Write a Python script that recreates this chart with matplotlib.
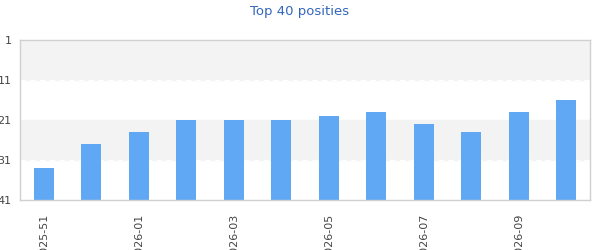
import matplotlib
matplotlib.use("Agg")
import matplotlib.pyplot as plt

# weekly chart positions (lower is better)
weeks = ["2025-51", "2025-52", "2026-01", "2026-02", "2026-03", "2026-04",
         "2026-05", "2026-06", "2026-07", "2026-08", "2026-09", "2026-10"]
positions = [33, 27, 24, 21, 21, 21, 20, 19, 22, 24, 19, 16]
y_ticks = [1, 11, 21, 31, 41]

fig = plt.figure(figsize=(6, 2.5), dpi=100)
ax = fig.add_axes([20 / 600, 1 - 200 / 250, 570 / 600, 160 / 250])

# alternating background bands
ax.axhspan(1, 11, color="#f3f3f3", zorder=0)
ax.axhspan(21, 31, color="#f3f3f3", zorder=0)
for y in (11, 31):
    ax.axhline(y, color="white", linestyle=(0, (4, 3)), linewidth=1, zorder=0.5)

# bars grow from the bottom (41) up to the position
x = list(range(len(weeks)))
heights = [41 - p for p in positions]
ax.bar(x, heights, bottom=positions, width=0.42, color="#60a8f4", zorder=2)

ax.set_ylim(41, 1)
ax.set_xlim(-0.5, len(weeks) - 0.5)
ax.set_yticks(y_ticks)
ax.set_yticklabels([str(v) for v in y_ticks])
ax.set_xticks(x[::2])
ax.set_xticklabels(weeks[::2], rotation=90, va="top", ha="center")
ax.tick_params(length=0, labelsize=8, colors="#444444")
ax.tick_params(axis="y", pad=6)
ax.tick_params(axis="x", pad=10)

for s in ax.spines.values():
    s.set_color("#d0d0d0")
    s.set_linewidth(1)

fig.text(0.5, 1 - 11 / 250, "Top 40 posities", ha="center", va="center",
         color="#3366bb", fontsize=9.5)

fig.savefig("out.png", dpi=100)
